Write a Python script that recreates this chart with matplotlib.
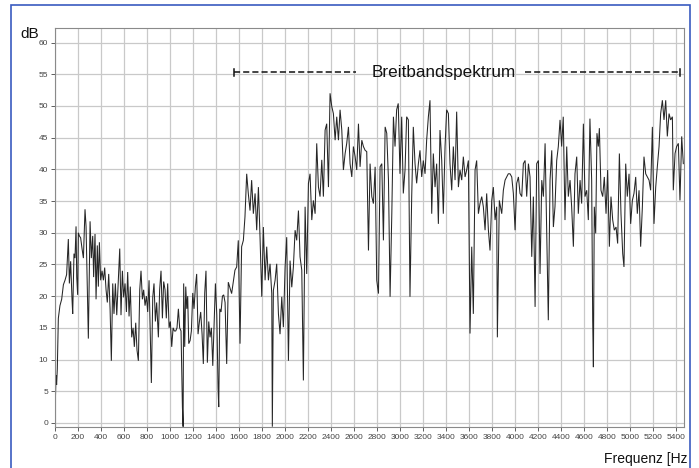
import numpy as np
import matplotlib
matplotlib.use("Agg")
import matplotlib.pyplot as plt
from matplotlib.patches import Rectangle

plt.rcParams['font.family'] = ['Liberation Sans', 'DejaVu Sans']

# ---- data (frequency in Hz, level in dB) ----
freq_a = [0, 9, 14, 20, 29, 43, 58, 73, 87, 101,
          116, 125, 136, 148, 154, 165, 174, 183, 189, 197,
          203, 212, 223, 235, 247, 261, 270, 281, 290, 305,
          316, 328, 336, 348, 357, 368, 377, 386, 397, 409,
          421, 432, 444, 455, 467, 479, 490, 502, 513, 525,
          537, 551, 563, 574, 586, 597, 609, 621, 632, 644,
          655, 667, 679, 690, 702, 713, 725, 737, 748, 760,
          771, 783, 795, 806, 818, 829, 838, 850, 861, 873,
          884, 899, 910, 922, 934, 945, 957, 968, 980, 992,
          1003, 1015, 1027, 1038, 1050, 1061, 1073, 1084, 1096, 1108,
          1114, 1119, 1128, 1137, 1146, 1154, 1163, 1175, 1186, 1198,
          1209, 1221, 1232, 1244, 1256, 1267, 1279, 1290, 1302, 1313,
          1325, 1337, 1348, 1360, 1372, 1384, 1395, 1407, 1418, 1424,
          1433, 1444, 1456, 1467, 1479]
level_a = [1.5, 7.5, 6, 8.5, 16.5, 18.5, 19.5, 21.8, 22.5, 23.4,
           29, 22, 25.5, 19.5, 17.2, 26.7, 26, 31, 23, 20.2,
           30, 29.5, 29.2, 27.5, 26, 33.7, 31, 21, 13.3, 31.8,
           26, 29.5, 23, 29.8, 19.5, 28, 21.5, 28.5, 22.5, 24,
           22.5, 24.5, 21, 19, 23.5, 18, 9.8, 22, 17.2, 22,
           17, 22.5, 27.5, 17, 24, 19.8, 22, 17.5, 23.8, 16.8,
           21.5, 13.5, 15, 12, 15.8, 11.5, 9.8, 21, 24, 19.5,
           21, 18.5, 20, 17.5, 22.5, 14, 6.3, 19.8, 22, 16,
           19, 13.5, 21, 24, 16.5, 22.3, 21, 16.5, 22, 15,
           16, 12, 15, 14.5, 14.5, 15, 18, 15, 14.5, 2.5,
           -0.6, 22, 12, 21.5, 18, 20, 12.5, 13, 14.5, 20.5,
           18, 21.5, 23.5, 14, 16, 17.5, 14, 9.3, 20.5, 24,
           9.5, 16, 13.5, 15, 9, 16, 22, 17, 5.5, 2.5,
           18, 17.5, 20, 20.2, 19]

freq_b = [1493, 1507, 1536, 1565, 1580, 1594, 1609, 1623, 1638, 1652,
          1667, 1681, 1696, 1710, 1725, 1740, 1754, 1769, 1783, 1798,
          1812, 1827, 1841, 1856, 1870, 1885, 1890, 1899, 1914, 1928,
          1943, 1957, 1972, 1986, 2001, 2015, 2030, 2044, 2059, 2073,
          2088, 2102, 2117, 2131, 2146, 2160, 2175, 2189, 2204, 2218,
          2233, 2247, 2262, 2276, 2291, 2305, 2320, 2334, 2349, 2363,
          2378, 2392, 2407, 2421, 2436, 2450, 2465, 2479, 2494, 2508,
          2523, 2537, 2552, 2566, 2581, 2595, 2610, 2624, 2639, 2653,
          2668, 2682, 2697, 2711, 2726, 2740, 2755, 2769, 2784, 2798,
          2813, 2827, 2842, 2856, 2871, 2885, 2900, 2914, 2929, 2943]
level_b = [9.3, 22.2, 20.4, 24.1, 24.6, 28.8, 12.5, 27.8, 28.8, 32.5,
           39.3, 36.2, 33.5, 38.3, 33.0, 36.2, 30.4, 37.2, 29.3, 19.9,
           30.9, 22.5, 27.8, 22.5, 25.1, 20.4, -0.6, 20.9, 22.5, 25.1,
           17.2, 14.0, 19.9, 15.1, 24.6, 29.3, 9.8, 25.6, 21.4, 24.6,
           30.4, 28.8, 33.5, 26.2, 24.1, 6.7, 34.1, 23.5, 37.8, 39.3,
           32.0, 35.1, 33.0, 44.1, 37.2, 35.7, 41.5, 35.7, 46.2, 47.2,
           37.2, 52.0, 49.9, 48.8, 44.6, 48.3, 44.6, 49.4, 46.2, 39.9,
           42.5, 44.1, 46.7, 40.9, 38.8, 43.6, 42.0, 39.9, 47.2, 40.4,
           44.6, 43.6, 43.0, 42.8, 27.2, 40.9, 35.7, 34.6, 40.4, 22.5,
           20.4, 40.4, 40.9, 28.8, 46.7, 45.7, 38.3, 19.9, 33.0, 48.3]

freq_c = [2957, 2971, 2985, 3000, 3015, 3029, 3044, 3058, 3073, 3087,
          3102, 3116, 3131, 3145, 3160, 3174, 3189, 3203, 3218, 3232,
          3247, 3261, 3276, 3290, 3305, 3319, 3334, 3348, 3363, 3377,
          3392, 3406, 3421, 3435, 3450, 3464, 3479, 3493, 3508, 3522,
          3537, 3551, 3566, 3580, 3595, 3609, 3624, 3638, 3653, 3667,
          3682, 3696, 3711, 3725, 3740, 3754, 3769, 3783, 3798, 3812,
          3827, 3841, 3847, 3864, 3885, 3899, 3914, 3928, 3942, 3957,
          3972, 3986, 4001, 4015, 4030, 4044, 4059, 4073, 4088, 4102,
          4117, 4131, 4146, 4160, 4175, 4189, 4204, 4218, 4233, 4247,
          4262, 4276, 4290, 4305, 4320, 4334]
level_c = [43.6, 49.4, 50.4, 39.3, 48.3, 36.2, 39.9, 48.3, 47.8, 19.9,
           35.7, 46.7, 40.9, 37.8, 40.9, 43.0, 38.8, 41.4, 39.3, 44.6,
           48.3, 50.9, 33.0, 42.5, 37.2, 40.9, 31.4, 46.2, 41.4, 33.0,
           43.6, 49.4, 48.8, 40.9, 36.7, 43.6, 38.3, 49.1, 37.2, 39.9,
           38.3, 42.0, 38.8, 39.9, 41.4, 14.1, 27.8, 17.2, 39.9, 41.4,
           33.0, 34.6, 35.7, 34.1, 30.4, 36.2, 30.4, 27.2, 35.1, 37.2,
           32.0, 34.1, 13.5, 35.1, 33.0, 36.7, 38.3, 38.8, 39.3, 39.3,
           38.8, 36.2, 30.4, 37.8, 38.8, 36.2, 35.7, 40.9, 41.4, 35.7,
           40.9, 38.8, 26.2, 35.7, 18.3, 40.9, 41.4, 23.5, 38.3, 35.7,
           44.1, 30.4, 16.2, 38.3, 43.0, 30.9]

freq_d = [4348, 4363, 4377, 4392, 4406, 4420, 4435, 4450, 4464, 4479,
          4493, 4508, 4522, 4537, 4551, 4566, 4580, 4595, 4609, 4624,
          4638, 4652, 4667, 4676, 4682, 4690, 4702, 4713, 4725, 4734,
          4748, 4763, 4777, 4792, 4806, 4821, 4835, 4850, 4864, 4879,
          4893, 4908, 4922, 4937, 4948, 4963, 4977, 4992, 5006, 5021,
          5035, 5050, 5064, 5079, 5093, 5108, 5122, 5137, 5151, 5166,
          5180, 5195, 5209, 5224, 5238, 5253, 5267, 5282, 5296, 5311,
          5325, 5340, 5354, 5369, 5377, 5392, 5406, 5421, 5435, 5450,
          5464]
level_d = [34.1, 41.4, 43.6, 47.8, 43.6, 48.3, 32.0, 43.6, 35.7, 38.3,
           34.1, 27.8, 39.3, 42.0, 33.0, 38.3, 34.6, 47.2, 35.7, 36.7,
           32.0, 48.0, 38.3, 16.2, 8.8, 34.1, 29.9, 45.7, 43.6, 46.5,
           36.7, 35.7, 38.8, 33.0, 39.9, 27.8, 35.7, 32.0, 30.4, 30.9,
           28.3, 42.5, 33.0, 26.7, 24.6, 40.9, 35.7, 39.3, 31.4, 35.1,
           36.2, 38.8, 33.0, 36.7, 27.8, 34.1, 42.0, 39.3, 38.8, 38.3,
           36.7, 46.7, 31.4, 37.2, 40.4, 43.6, 48.8, 50.9, 47.8, 50.9,
           45.2, 48.8, 47.8, 48.3, 36.7, 42.5, 43.6, 44.1, 35.1, 45.2,
           40.9]

x_ticks = list(range(0, 5401, 200))
y_ticks = list(range(0, 61, 5))

band_label = "Breitbandspektrum"
band_start, band_end = 1557, 5435
band_level = 55.3
band_text_x = 3378
band_gap_left, band_gap_right = 2617, 4087

freq = np.array(freq_a + freq_b + freq_c + freq_d, dtype=float)
level = np.array(level_a + level_b + level_c + level_d, dtype=float)
assert len(freq) == len(level)

W, H = 699, 468
fig = plt.figure(figsize=(W / 100, H / 100), dpi=100)
ax = fig.add_axes([55 / W, 1 - 426.7 / H, (684 - 55) / W, (426.7 - 28) / H])

ax.plot(freq, level, color='#262626', lw=0.75, solid_joinstyle='miter')

ax.set_xlim(0, 5470)
ax.set_ylim(-0.6, 62.3)
ax.set_xticks(x_ticks)
ax.set_yticks(y_ticks)
ax.tick_params(labelsize=6, colors='#444444', length=3, width=0.6, pad=2)
ax.grid(True, color='#c9c9c9', lw=0.9)
ax.set_axisbelow(True)
for s in ax.spines.values():
    s.set_color('#8a8a8a')
    s.set_linewidth(0.8)

# annotation of the broadband region
dash = dict(color='#111111', lw=1.1, linestyle=(0, (4, 2)))
ax.plot([band_start, band_gap_left], [band_level, band_level], **dash)
ax.plot([band_gap_right, band_end], [band_level, band_level], **dash)
ax.plot([band_start, band_start], [band_level - 0.5, band_level + 0.5], color='#111111', lw=1.1)
ax.plot([band_end, band_end], [band_level - 0.5, band_level + 0.5], color='#111111', lw=1.1)
ax.text(band_text_x, band_level, band_label, fontsize=12.3, color='#111111',
        ha='center', va='center')

fig.text(20 / W, 1 - 33.5 / H, "dB", fontsize=11, color='#111111', ha='left', va='center')
fig.text(688 / W, 1 - 459 / H, "Frequenz [Hz", fontsize=10, color='#111111',
         ha='right', va='center')

# blue frame (cut off at the bottom)
fig.patches.append(Rectangle((10.5 / W, -0.1), (690 - 10.5) / W, 1.1 - 5.5 / H,
                             transform=fig.transFigure, fill=False,
                             edgecolor='#3a5bc0', lw=1.2))

fig.savefig("out.png", dpi=100)
